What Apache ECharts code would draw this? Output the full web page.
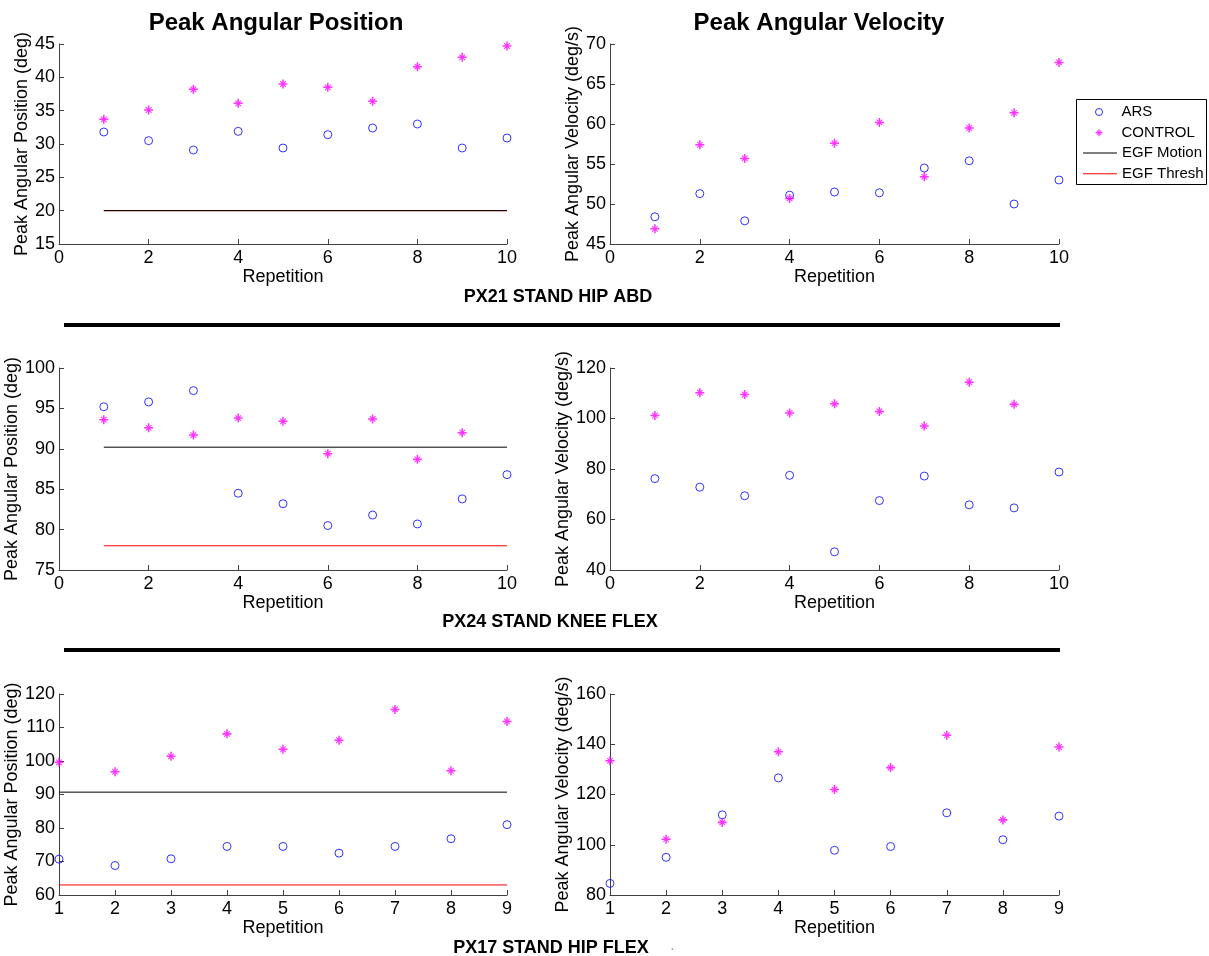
<!DOCTYPE html>
<html>
<head>
<meta charset="utf-8">
<title>Peak Angular Position / Velocity</title>
<script src="https://cdn.jsdelivr.net/npm/echarts@6/dist/echarts.min.js"></script>
<style>
  html, body { margin: 0; padding: 0; background: #fff; }
  #chart { width: 1209px; height: 956px; }
</style>
</head>
<body>
<div id="chart"></div>
<script>
// repetitions
const reps10 = [1, 2, 3, 4, 5, 6, 7, 8, 9, 10];
const reps9 = [1, 2, 3, 4, 5, 6, 7, 8, 9];

// PX21 STAND HIP ABD
const hipAbdPosArs = [31.8, 30.5, 29.1, 31.9, 29.4, 31.4, 32.4, 33.0, 29.4, 30.9];
const hipAbdPosCtrl = [33.7, 35.1, 38.2, 36.1, 39.0, 38.5, 36.4, 41.6, 43.0, 44.7];
const hipAbdVelArs = [48.4, 51.3, 47.9, 51.1, 51.5, 51.4, 54.5, 55.4, 50.0, 53.0];
const hipAbdVelCtrl = [46.9, 57.4, 55.7, 50.7, 57.6, 60.2, 53.4, 59.5, 61.4, 67.7];
const hipAbdMotion = 20;
const hipAbdThresh = 20;

// PX24 STAND KNEE FLEX
const kneePosArs = [95.2, 95.8, 97.2, 84.5, 83.2, 80.5, 81.8, 80.7, 83.8, 86.8];
const kneePosCtrl = [93.6, 92.6, 91.7, 93.8, 93.4, 89.4, 93.7, 88.7, 92.0];
const kneeVelArs = [76.2, 72.8, 69.4, 77.5, 47.2, 67.5, 77.2, 65.8, 64.6, 78.8];
const kneeVelCtrl = [101.2, 110.2, 109.5, 102.2, 105.8, 102.8, 97.0, 114.4, 105.6];
const kneeMotion = 90.2;
const kneeThresh = 78;

// PX17 STAND HIP FLEX
const hipFlexPosArs = [70.7, 68.8, 70.8, 74.5, 74.5, 72.5, 74.5, 76.8, 81.0];
const hipFlexPosCtrl = [99.6, 96.8, 101.4, 108.1, 103.5, 106.2, 115.4, 97.1, 111.8];
const hipFlexVelArs = [84.6, 95.0, 111.9, 126.6, 97.8, 99.3, 112.7, 102.0, 111.4];
const hipFlexVelCtrl = [133.4, 102.2, 108.9, 137.0, 122.0, 130.7, 143.6, 109.9, 138.9];
const hipFlexMotion = 90.7;
const hipFlexThresh = 63;

const FONT = "'Liberation Sans', Arial, sans-serif";
const BLUE = "#0000ff";
const MAGENTA = "#ff00ff";
const AXIS_COLOR = "#404040";

// matlab-ish '*' marker (bold plus with shorter diagonals)
const STAR =
  "path://M8.3,0L11.7,0L11.7,20L8.3,20Z M0,8.3L20,8.3L20,11.7L0,11.7Z " +
  "M4.6,3.0L17.0,15.4L15.4,17.0L3.0,4.6Z M15.4,3.0L17.0,4.6L4.6,17.0L3.0,15.4Z";

const grids = [
  { left: 59, top: 44, width: 448, height: 200 },
  { left: 610, top: 44, width: 449, height: 200 },
  { left: 59, top: 368, width: 448, height: 202 },
  { left: 610, top: 368, width: 449, height: 202 },
  { left: 59, top: 694, width: 448, height: 201 },
  { left: 610, top: 694, width: 449, height: 201 },
];

const axisText = { color: "#000", fontFamily: FONT, fontSize: 18 };

const makeXAxis = (gridIndex, min, max, step) => ({
  gridIndex,
  type: "value",
  min,
  max,
  interval: step,
  name: "Repetition",
  nameLocation: "middle",
  nameGap: 24,
  nameTextStyle: axisText,
  axisLine: { lineStyle: { color: AXIS_COLOR, width: 1 } },
  axisTick: { inside: true, length: 5, lineStyle: { color: AXIS_COLOR } },
  axisLabel: { ...axisText, margin: 5, showMinLabel: true, showMaxLabel: true, hideOverlap: false },
  splitLine: { show: false },
});

const makeYAxis = (gridIndex, min, max, step, name) => ({
  gridIndex,
  type: "value",
  min,
  max,
  interval: step,
  name,
  nameLocation: "middle",
  nameRotate: 90,
  nameGap: 21,
  nameTextStyle: axisText,
  axisLine: { show: true, lineStyle: { color: AXIS_COLOR, width: 1 } },
  axisTick: { show: true, inside: true, length: 5, lineStyle: { color: AXIS_COLOR } },
  axisLabel: { ...axisText, margin: 4, showMinLabel: true, showMaxLabel: true, hideOverlap: false },
  splitLine: { show: false },
});

const POS_NAME = "Peak Angular Position (deg)";
const VEL_NAME = "Peak Angular Velocity (deg/s)";

const xAxes = [
  makeXAxis(0, 0, 10, 2),
  makeXAxis(1, 0, 10, 2),
  makeXAxis(2, 0, 10, 2),
  makeXAxis(3, 0, 10, 2),
  makeXAxis(4, 1, 9, 1),
  makeXAxis(5, 1, 9, 1),
];

const yAxes = [
  makeYAxis(0, 15, 45, 5, POS_NAME),
  makeYAxis(1, 45, 70, 5, VEL_NAME),
  makeYAxis(2, 75, 100, 5, POS_NAME),
  makeYAxis(3, 40, 120, 20, VEL_NAME),
  makeYAxis(4, 60, 120, 10, POS_NAME),
  makeYAxis(5, 80, 160, 20, VEL_NAME),
];

const pairs = (reps, vals) => vals.map((v, i) => [reps[i], v]);

const arsSeries = (idx, reps, vals) => ({
  name: "ARS",
  type: "scatter",
  xAxisIndex: idx,
  yAxisIndex: idx,
  data: pairs(reps, vals),
  symbol: "circle",
  symbolSize: 8,
  clip: false,
  itemStyle: { color: "rgba(0,0,0,0)", borderColor: BLUE, borderWidth: 1 },
  z: 3,
});

const ctrlSeries = (idx, reps, vals) => ({
  name: "CONTROL",
  type: "scatter",
  xAxisIndex: idx,
  yAxisIndex: idx,
  data: pairs(reps, vals),
  symbol: STAR,
  symbolSize: 9,
  clip: false,
  itemStyle: { color: MAGENTA },
  z: 4,
});

const levelSeries = (idx, reps, value, name, color) => ({
  name,
  type: "line",
  xAxisIndex: idx,
  yAxisIndex: idx,
  data: [[reps[0], value], [reps[reps.length - 1], value]],
  symbol: "none",
  lineStyle: { color, width: 1 },
  itemStyle: { color },
  z: 2,
});

const series = [
  // hip abd
  levelSeries(0, reps10, hipAbdThresh, "EGF Thresh", "#ff0000"),
  levelSeries(0, reps10, hipAbdMotion, "EGF Motion", "#000000"),
  arsSeries(0, reps10, hipAbdPosArs),
  ctrlSeries(0, reps10, hipAbdPosCtrl),
  arsSeries(1, reps10, hipAbdVelArs),
  ctrlSeries(1, reps10, hipAbdVelCtrl),
  // knee flex
  levelSeries(2, reps10, kneeMotion, "EGF Motion", "#000000"),
  levelSeries(2, reps10, kneeThresh, "EGF Thresh", "#ff0000"),
  arsSeries(2, reps10, kneePosArs),
  ctrlSeries(2, reps10, kneePosCtrl),
  arsSeries(3, reps10, kneeVelArs),
  ctrlSeries(3, reps10, kneeVelCtrl),
  // hip flex
  levelSeries(4, reps9, hipFlexMotion, "EGF Motion", "#000000"),
  levelSeries(4, reps9, hipFlexThresh, "EGF Thresh", "#ff0000"),
  arsSeries(4, reps9, hipFlexPosArs),
  ctrlSeries(4, reps9, hipFlexPosCtrl),
  arsSeries(5, reps9, hipFlexVelArs),
  ctrlSeries(5, reps9, hipFlexVelCtrl),
];

const bigTitle = { color: "#000", fontFamily: FONT, fontSize: 24, fontWeight: "bold" };
const caption = { color: "#000", fontFamily: FONT, fontSize: 18, fontWeight: "bold" };
const legendText = { color: "#000", fontFamily: FONT, fontSize: 15, lineHeight: 16 };

const chart = echarts.init(document.getElementById("chart"), null, { renderer: "canvas" });

chart.setOption({
  animation: false,
  backgroundColor: "#fff",
  title: [
    { text: "Peak Angular Position", left: 276, top: 11, textAlign: "center", padding: 0, textStyle: bigTitle },
    { text: "Peak Angular Velocity", left: 819, top: 11, textAlign: "center", padding: 0, textStyle: bigTitle },
    { text: "PX21 STAND HIP ABD", left: 558, top: 288, textAlign: "center", padding: 0, textStyle: caption },
    { text: "PX24 STAND KNEE FLEX", left: 550, top: 613, textAlign: "center", padding: 0, textStyle: caption },
    { text: "PX17 STAND HIP FLEX", left: 551, top: 939, textAlign: "center", padding: 0, textStyle: caption },
    { text: ".", left: 671, top: 942, padding: 0, textStyle: { color: "#999", fontFamily: FONT, fontSize: 10 } },
  ],
  legend: [
    {
      data: [
        { name: "ARS", itemStyle: { color: "rgba(0,0,0,0)", borderColor: BLUE, borderWidth: 1 } },
        { name: "CONTROL" },
      ],
      orient: "vertical",
      left: 1095,
      top: 104,
      padding: 0,
      itemWidth: 7,
      itemHeight: 7,
      itemGap: 4.7,
      selectedMode: false,
      textStyle: { ...legendText, padding: [0, 0, 0, 14] },
    },
    {
      data: [
        { name: "EGF Motion", icon: "rect" },
        { name: "EGF Thresh", icon: "rect" },
      ],
      orient: "vertical",
      left: 1083,
      top: 145,
      padding: 0,
      itemWidth: 34,
      itemHeight: 1,
      itemGap: 4.7,
      selectedMode: false,
      textStyle: legendText,
    },
  ],
  grid: grids.map(g => ({ ...g, containLabel: false })),
  xAxis: xAxes,
  yAxis: yAxes,
  series,
  graphic: [
    {
      type: "rect",
      shape: { x: 1076.5, y: 99.5, width: 130, height: 85 },
      style: { fill: "none", stroke: "#000", lineWidth: 1 },
      z: -1,
    },
    {
      type: "line",
      shape: { x1: 64, y1: 325, x2: 1060, y2: 325 },
      style: { stroke: "#000", lineWidth: 4 },
    },
    {
      type: "line",
      shape: { x1: 64, y1: 650, x2: 1060, y2: 650 },
      style: { stroke: "#000", lineWidth: 4 },
    },
  ],
});
</script>
</body>
</html>
